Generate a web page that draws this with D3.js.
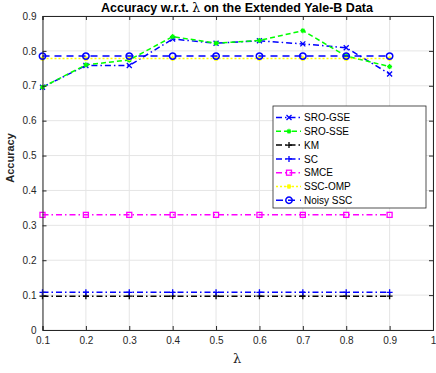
<!DOCTYPE html>
<html><head><meta charset="utf-8">
<script src="https://cdn.jsdelivr.net/npm/d3@7"></script>
<style>body{margin:0;background:#fff}svg{display:block}text{font-family:"Liberation Sans",Arial,sans-serif}</style>
</head><body><svg id="c" width="436" height="373"></svg>
<script>
const lambdas = [0.1,0.2,0.3,0.4,0.5,0.6,0.7,0.8,0.9];
const sroGSE = [0.696,0.758,0.758,0.834,0.822,0.829,0.820,0.809,0.734];
const sroSSE = [0.696,0.760,0.774,0.841,0.822,0.830,0.858,0.785,0.755];
const km     = [0.097,0.097,0.097,0.097,0.097,0.097,0.097,0.097,0.097];
const sc     = [0.108,0.108,0.108,0.108,0.108,0.108,0.108,0.108,0.108];
const smce   = [0.330,0.330,0.330,0.330,0.330,0.330,0.330,0.330,0.330];
const sscOMP = [0.778,0.778,0.778,0.778,0.778,0.778,0.778,0.778,0.778];
const noisySSC=[0.785,0.785,0.785,0.785,0.785,0.785,0.785,0.785,0.785];
const xTicks = [0.1,0.2,0.3,0.4,0.5,0.6,0.7,0.8,0.9,1];
const yTicks = [0,0.1,0.2,0.3,0.4,0.5,0.6,0.7,0.8,0.9];
const seriesNames = ["SRO-GSE","SRO-SSE","KM","SC","SMCE","SSC-OMP","Noisy SSC"];

const series = [
 {name:seriesNames[0], v:sroGSE, color:"#0000ff", dash:"6,3,1.5,3", marker:"x"},
 {name:seriesNames[1], v:sroSSE, color:"#00ff00", dash:"5,3", marker:"star"},
 {name:seriesNames[2], v:km, color:"#000000", dash:"6,3,1.5,3", marker:"plus"},
 {name:seriesNames[3], v:sc, color:"#0000ff", dash:"6,3,1.5,3", marker:"plus"},
 {name:seriesNames[4], v:smce, color:"#ff00ff", dash:"6,3,1.5,3", marker:"square"},
 {name:seriesNames[5], v:sscOMP, color:"#ffff00", dash:"2,2", marker:"star"},
 {name:seriesNames[6], v:noisySSC, color:"#0000ff", dash:"7,5", marker:"circle"}
];

const svg = d3.select("#c");
const L=42.5, R=433, T=16, B=330;
const x = d3.scaleLinear().domain([0.1,1]).range([L,R]);
const y = d3.scaleLinear().domain([0,0.9]).range([B,T]);
const axCol = "#262626";

// grid
const g = svg.append("g");
g.selectAll(".gx").data(xTicks).enter().append("line")
 .attr("x1",d=>x(d)).attr("x2",d=>x(d)).attr("y1",T).attr("y2",B)
 .attr("stroke","#e5e5e5").attr("stroke-width",1);
g.selectAll(".gy").data(yTicks).enter().append("line")
 .attr("y1",d=>y(d)).attr("y2",d=>y(d)).attr("x1",L).attr("x2",R)
 .attr("stroke","#e5e5e5").attr("stroke-width",1);

function marker(sel, type, color){
  const s=2.5;
  if(type==="x"){
    sel.append("path").attr("d",`M${-s},${-s}L${s},${s}M${-s},${s}L${s},${-s}`).attr("stroke",color).attr("stroke-width",1.3);
  } else if(type==="plus"){
    sel.append("path").attr("d",`M${-s-0.5},0L${s+0.5},0M0,${-s-0.5}L0,${s+0.5}`).attr("stroke",color).attr("stroke-width",1.3);
  } else if(type==="star"){
    sel.append("path").attr("d",`M${-s},0L${s},0M0,${-s}L0,${s}M${-s*0.7},${-s*0.7}L${s*0.7},${s*0.7}M${-s*0.7},${s*0.7}L${s*0.7},${-s*0.7}`).attr("stroke",color).attr("stroke-width",1.2);
  } else if(type==="square"){
    sel.append("rect").attr("x",-2.5).attr("y",-2.5).attr("width",5).attr("height",5).attr("fill","none").attr("stroke",color).attr("stroke-width",1.3);
  } else if(type==="circle"){
    sel.append("circle").attr("r",3.2).attr("fill","none").attr("stroke",color).attr("stroke-width",1.5);
  }
}

const line = d3.line().x((d,i)=>x(lambdas[i])).y(d=>y(d));
const plot = svg.append("g");
series.forEach(s=>{
  plot.append("path").attr("d",line(s.v)).attr("fill","none").attr("stroke",s.color)
   .attr("stroke-width",1.5).attr("stroke-dasharray",s.dash);
  s.v.forEach((v,i)=>{
    const m=plot.append("g").attr("transform",`translate(${x(lambdas[i])},${y(v)})`);
    marker(m,s.marker,s.color);
  });
});

// axes box
const xAxis = d3.axisBottom(x).tickValues(xTicks).tickSize(-4).tickPadding(7).tickFormat(d=>d===1?"1":d3.format(".1f")(d));
const yAxis = d3.axisLeft(y).tickValues(yTicks).tickSize(-4).tickPadding(6).tickFormat(d=>d===0?"0":d3.format(".1f")(d));
const xa = svg.append("g").attr("transform",`translate(0,${B})`).call(xAxis);
const ya = svg.append("g").attr("transform",`translate(${L},0)`).call(yAxis);
const xt = svg.append("g").attr("transform",`translate(0,${T})`).call(d3.axisTop(x).tickValues(xTicks).tickSize(-4).tickFormat(""));
const yr = svg.append("g").attr("transform",`translate(${R},0)`).call(d3.axisRight(y).tickValues(yTicks).tickSize(-4).tickFormat(""));
[xa,ya,xt,yr].forEach(a=>{
  a.selectAll("path").attr("stroke",axCol).attr("stroke-width",1);
  a.selectAll("line").attr("stroke",axCol);
  a.selectAll("text").attr("fill",axCol).style("font-size","10px").style("font-family","Liberation Sans, Arial, sans-serif");
});

// legend
const lg = svg.append("g");
lg.append("rect").attr("x",273).attr("y",106).attr("width",153).attr("height",102).attr("fill","#fff").attr("stroke",axCol).attr("stroke-width",0.8);
series.forEach((s,i)=>{
  const yy = 117.5 + i*13.8;
  lg.append("line").attr("x1",276).attr("x2",301).attr("y1",yy).attr("y2",yy)
   .attr("stroke",s.color).attr("stroke-width",1.5).attr("stroke-dasharray",s.dash);
  const m = lg.append("g").attr("transform",`translate(289,${yy})`);
  marker(m,s.marker,s.color);
  lg.append("text").attr("x",304).attr("y",yy+3.6).text(s.name).attr("fill","#000").style("font-size","10px");
});

// title & labels
const title = svg.append("text").attr("x",237).attr("y",12).attr("text-anchor","middle")
 .style("font-size","12.5px").style("font-weight","bold").attr("fill","#000");
title.append("tspan").text("Accuracy w.r.t. ");
title.append("tspan").style("font-family","DejaVu Serif, serif").style("font-weight","normal").text("λ");
title.append("tspan").text(" on the Extended Yale-B Data");
svg.append("text").attr("transform",`translate(14,158) rotate(-90)`).attr("text-anchor","middle")
 .style("font-size","11px").style("font-weight","bold").attr("fill",axCol).text("Accuracy");
svg.append("text").attr("x",237).attr("y",363).attr("text-anchor","middle")
 .style("font-size","13px").style("font-family","DejaVu Serif, serif").attr("fill",axCol).text("λ");
</script></body></html>
